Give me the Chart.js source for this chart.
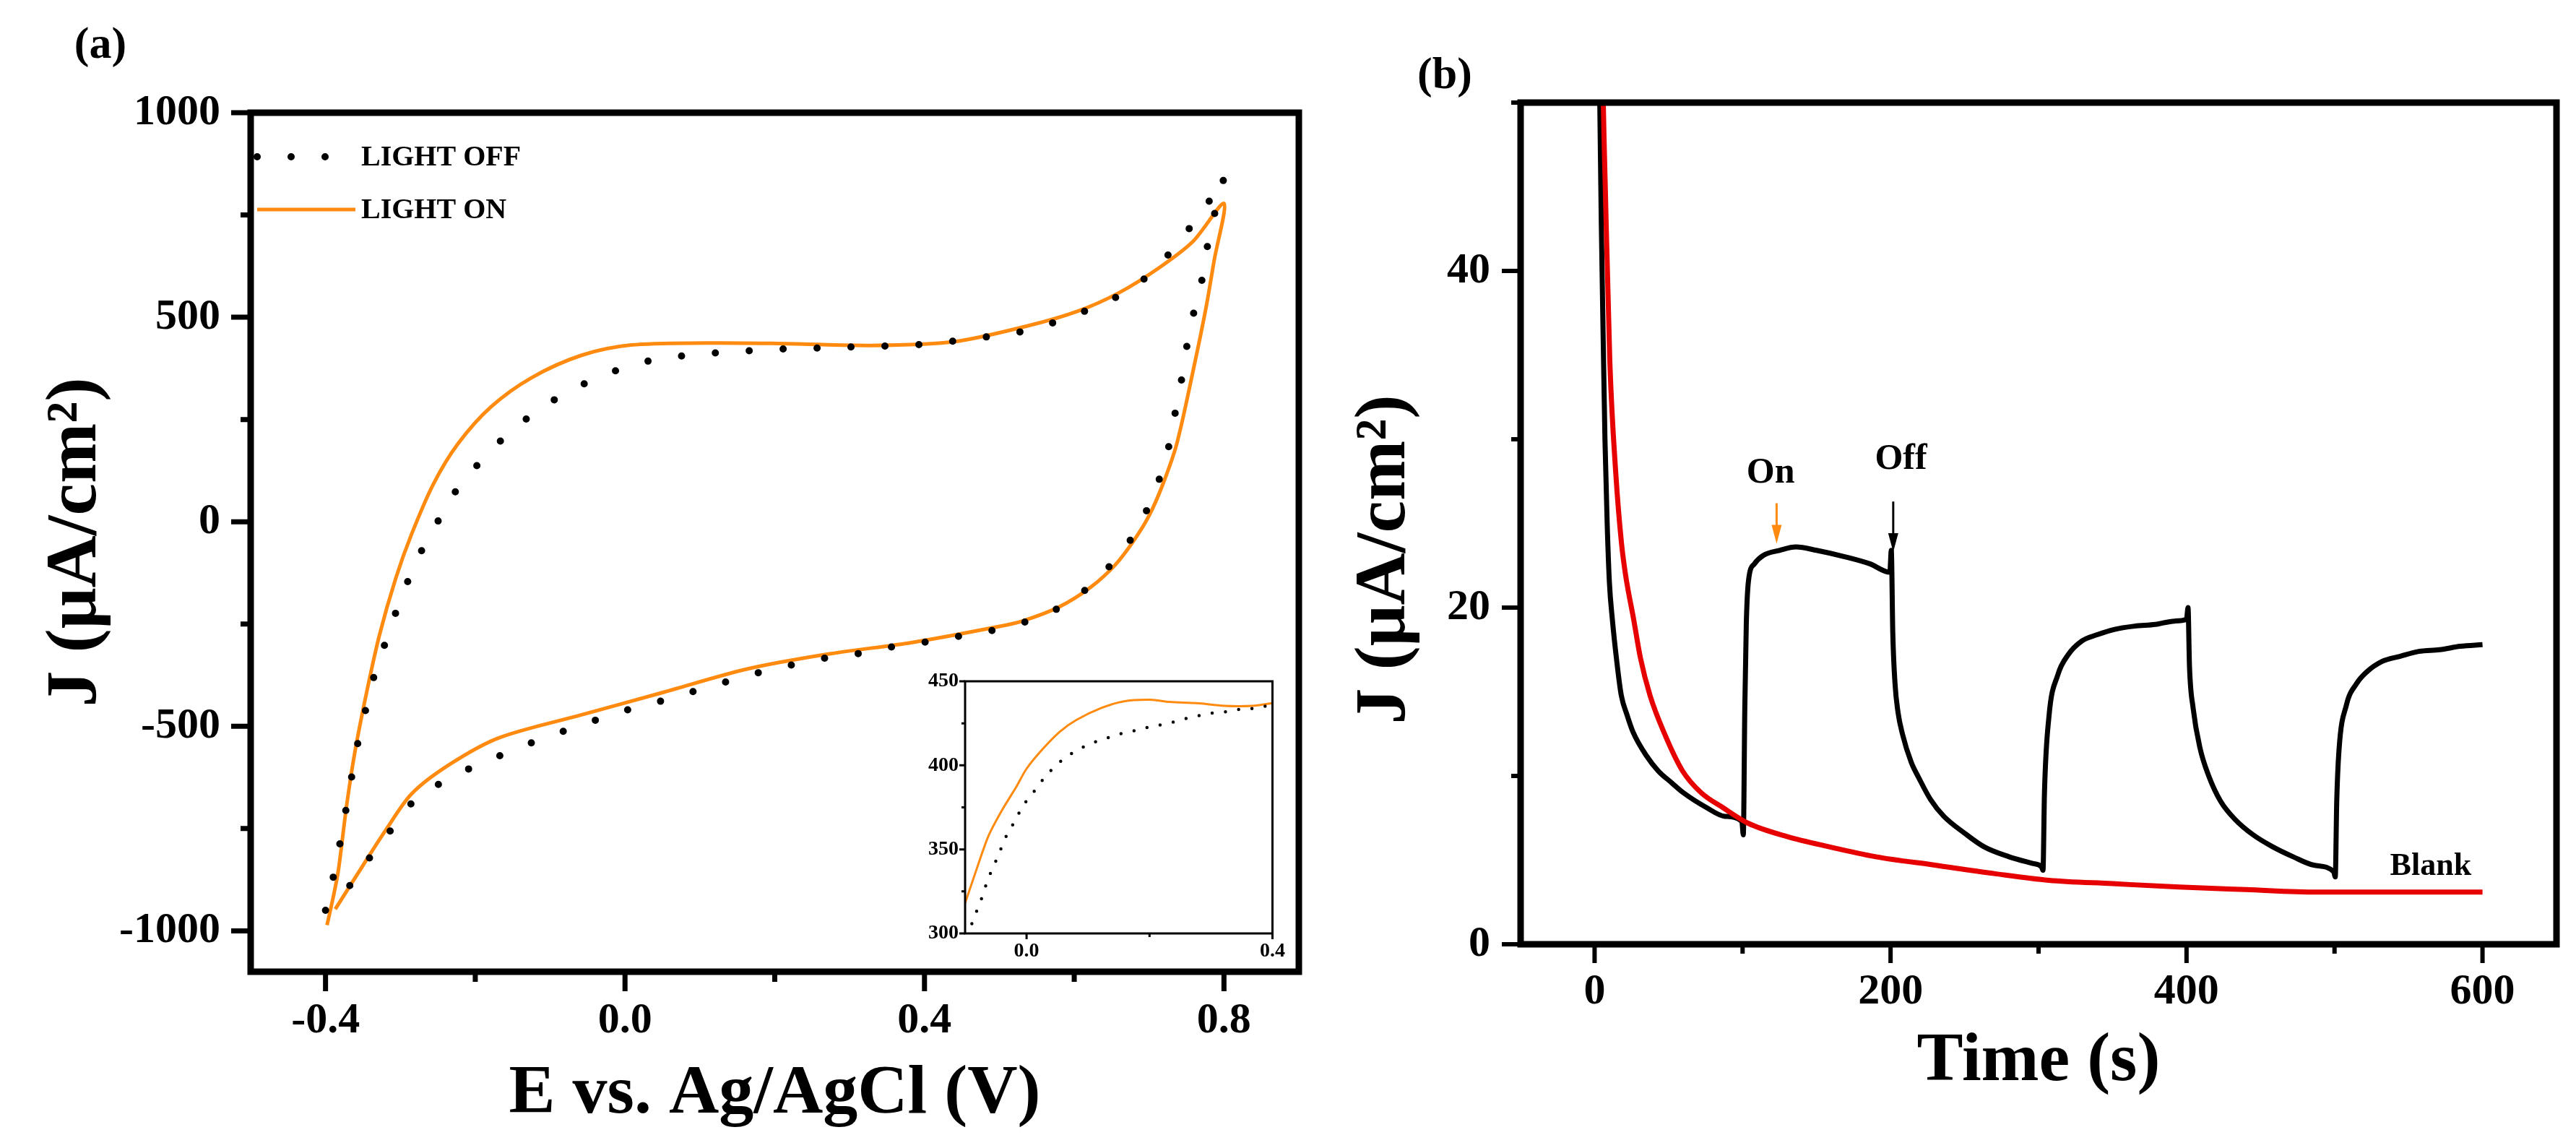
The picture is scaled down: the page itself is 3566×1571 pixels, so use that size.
<!DOCTYPE html>
<html>
<head>
<meta charset="utf-8">
<script src="https://cdn.jsdelivr.net/npm/chart.js@4.4.1/dist/chart.umd.min.js"></script>
<style>
  html, body { margin: 0; padding: 0; background: #fff; }
  body { width: 3566px; height: 1571px; position: relative; overflow: hidden; }
  .box { position: absolute; }
</style>
</head>
<body>
<div class="box" style="left:0;top:0;width:1820px;height:1571px"><canvas id="cv"></canvas></div>
<div class="box" style="left:1240px;top:915px;width:550px;height:420px"><canvas id="inset"></canvas></div>
<div class="box" style="left:1820px;top:0;width:1746px;height:1571px"><canvas id="ca"></canvas></div>
<script>
// (a) cyclic voltammetry: potential E (V) and current density J (uA/cm2)
const offE = [-0.400, -0.389, -0.380, -0.372, -0.364, -0.356, -0.345, -0.334, -0.319, -0.304, -0.287, -0.268, -0.248, -0.226, -0.198, -0.166, -0.130, -0.091, -0.049, -0.005, 0.039, 0.084, 0.130, 0.176, 0.220, 0.266, 0.312, 0.356, 0.400, 0.445, 0.491, 0.535, 0.579, 0.621, 0.660, 0.699, 0.729, 0.759, 0.787, 0.800,
  0.788, 0.779, 0.770, 0.759, 0.750, 0.743, 0.735, 0.726, 0.713, 0.696, 0.676, 0.649, 0.616, 0.574, 0.531, 0.487, 0.442, 0.398, 0.353, 0.309, 0.265, 0.220, 0.176, 0.132, 0.089, 0.047, 0.003, -0.041, -0.085, -0.127, -0.170, -0.212, -0.251, -0.284, -0.315, -0.343, -0.369];
const offJ = [-950, -863, -779, -696, -612, -533, -449, -370, -290, -211, -132, -57, 7, 75, 137, 198, 254, 302, 342, 374, 396, 407, 414, 419, 423, 425, 428, 430, 434, 443, 454, 467, 491, 520, 553, 602, 660, 730, 802, 845,
  757, 685, 586, 506, 425, 344, 268, 182, 101, 25, -42, -105, -165, -216, -247, -267, -281, -295, -307, -323, -334, -351, -370, -393, -416, -439, -460, -486, -514, -542, -574, -607, -644, -686, -759, -826, -893];
const onE = [-0.398, -0.390, -0.383, -0.372, -0.361, -0.345, -0.328, -0.306, -0.285, -0.256, -0.223, -0.179, -0.124, -0.058, 0.008, 0.108, 0.196, 0.329, 0.439, 0.538, 0.605, 0.660, 0.715, 0.759, 0.800,
  0.787, 0.776, 0.759, 0.737, 0.718, 0.700, 0.680, 0.655, 0.622, 0.580, 0.530, 0.494, 0.384, 0.273, 0.163, 0.053, -0.058, -0.168, -0.234, -0.285, -0.320, -0.350, -0.387];
const onJ = [-986, -920, -854, -696, -565, -416, -277, -137, -30, 92, 191, 281, 353, 407, 432, 437, 436, 431, 440, 479, 515, 560, 623, 686, 778,
  640, 523, 371, 191, 90, 15, -45, -105, -160, -208, -243, -258, -295, -323, -360, -416, -472, -528, -593, -665, -755, -840, -947];

// (a) inset, anodic branch close-up
const insetOnE = [-0.100, -0.080, -0.062, -0.040, -0.017, 0.000, 0.027, 0.054, 0.081, 0.121, 0.157, 0.201, 0.233, 0.277, 0.322, 0.367, 0.400];
const insetOnJ = [318, 339.6, 358, 373.3, 387, 398, 410, 420, 427, 434, 438, 439, 437.7, 437, 435.4, 435.4, 437];
const insetOffE = [-0.089, -0.081, -0.073, -0.066, -0.058, -0.049, -0.041, -0.032, -0.021, -0.011, 0.001, 0.014, 0.027, 0.041, 0.058, 0.076, 0.096, 0.117, 0.137, 0.158, 0.179, 0.200, 0.220, 0.242, 0.263, 0.284, 0.305, 0.326, 0.348, 0.369, 0.391, 0.400];
const insetOffJ = [305.8, 313.5, 321, 328.8, 336.5, 343.9, 351, 358.7, 365.6, 372.5, 379.5, 385.3, 391.7, 397.5, 403.2, 407.7, 411.5, 414.6, 416.9, 419.3, 420.9, 422.9, 424.2, 426, 428.2, 429.8, 431.3, 431.9, 433.4, 433.9, 435.4, 436];

// (b) chronoamperometry: time (s) and J (uA/cm2)
const photoT = [2, 3.5, 4.5, 6, 7, 8.5, 10, 12, 15, 18, 22, 26, 35, 43, 52, 60, 76, 88, 99.5, 100.5, 101.5, 102.5, 104, 108, 114, 125, 136, 150, 170, 186, 199.5, 200.5, 201.5, 203, 205, 208, 214, 219, 227, 236, 250, 263, 280, 296, 302, 303, 304, 307, 313, 320, 329, 340, 351, 365, 379, 392, 400, 401, 402, 404.5, 409, 415, 423, 433, 445, 458, 472, 486, 499.5, 500.5, 501.5, 503, 508, 515, 522, 532, 544, 557, 571, 585, 600];
const photoJ = [60, 50, 43, 35, 30, 25, 21.5, 19.3, 16.8, 14.8, 13.6, 12.6, 11.2, 10.3, 9.6, 9.0, 8.1, 7.6, 7.3, 6.5, 14, 19, 21.6, 22.6, 23.1, 23.4, 23.6, 23.4, 23.0, 22.6, 22.1, 23.4, 18.5, 15.5, 13.8, 12.5, 10.8, 9.9, 8.6, 7.6, 6.6, 5.8, 5.2, 4.8, 4.6, 4.4, 9, 13.5, 16, 17.2, 18, 18.4, 18.7, 18.9, 19.0, 19.2, 19.3, 20.0, 16.5, 14.0, 11.7, 10.0, 8.5, 7.4, 6.5, 5.8, 5.2, 4.7, 4.3, 4.0, 8.5, 11.5, 14.2, 15.5, 16.2, 16.8, 17.1, 17.4, 17.5, 17.7, 17.8];
const blankT = [4.5, 5.5, 7.5, 10.3, 14.3, 18.2, 21, 26.4, 31, 37.4, 46.8, 59.4, 72, 87, 103.5, 130, 158, 190, 230, 270, 307, 350, 395, 440, 488, 540, 600];
const blankJ = [60, 52, 44, 34.6, 28, 23.8, 21.9, 19.3, 17, 14.8, 12.6, 10.3, 9.0, 8.1, 7.2, 6.4, 5.8, 5.2, 4.7, 4.2, 3.8, 3.6, 3.4, 3.25, 3.1, 3.1, 3.1];

// ticks
const cvTicksE = [-0.4, 0, 0.4, 0.8];
const cvMinorE = [-0.2, 0.2, 0.6];
const cvTicksJ = [-1000, -500, 0, 500, 1000];
const cvMinorJ = [-750, -250, 250, 750];
const insetTicksE = [0, 0.4];
const insetMinorE = [0.2];
const insetTicksJ = [300, 350, 400, 450];
const insetMinorJ = [325, 375, 425];
const timeTicks = [0, 200, 400, 600];
const timeMinor = [100, 300, 500];
const ampTicks = [0, 20, 40];
const ampMinor = [10, 30, 50];

// annotations in (b)
const noteText = ['On', 'Off', 'Blank'];
const noteT = [119, 207, 565];
const noteJ = [28.0, 28.8, 4.6];
const arrowT = [123, 201.8];
const arrowFrom = [26.2, 26.3];
const arrowTo = [23.8, 23.3];

const SERIF = '"Liberation Serif", "Times New Roman", serif';
const ORANGE = '#ff8a10';
const RED = '#e60000';

const pts = (xs, ys) => xs.map((x, i) => ({x: x, y: ys[i]}));
const fixed = list => s => { s.ticks = list.map(v => ({value: v})); };

const frame = (o) => ({
    id: 'frame',
    afterDatasetsDraw(chart) {
        const {ctx, chartArea: a, scales: {x, y}} = chart;
        ctx.save();
        ctx.strokeStyle = '#000';
        ctx.lineWidth = o.width;
        ctx.strokeRect(a.left, a.top, a.right - a.left, a.bottom - a.top);
        ctx.lineWidth = o.tickWidth;
        ctx.beginPath();
        const xt = (v, len) => {
            const p = x.getPixelForValue(v);
            ctx.moveTo(p, a.bottom);
            ctx.lineTo(p, a.bottom + len);
        };
        const yt = (v, len) => {
            const p = y.getPixelForValue(v);
            ctx.moveTo(a.left, p);
            ctx.lineTo(a.left - len, p);
        };
        x.ticks.forEach(t => xt(t.value, o.major));
        y.ticks.forEach(t => yt(t.value, o.major));
        o.xMinor.forEach(v => xt(v, o.minor));
        o.yMinor.forEach(v => yt(v, o.minor));
        ctx.stroke();
        ctx.restore();
    }
});

const tag = (text, x, y) => ({
    id: 'tag',
    afterDraw(chart) {
        const ctx = chart.ctx;
        ctx.save();
        ctx.font = 'bold 62px ' + SERIF;
        ctx.fillStyle = '#000';
        ctx.textAlign = 'center';
        ctx.textBaseline = 'middle';
        ctx.fillText(text, x, y);
        ctx.restore();
    }
});

const insideLegend = {
    id: 'insideLegend',
    afterDatasetsDraw(chart) {
        const {ctx, chartArea: a} = chart;
        ctx.save();
        chart.data.datasets.forEach((ds, i) => {
            const y = a.top + 61 + i * 73;
            const x0 = a.left + 9;
            ctx.beginPath();
            ctx.strokeStyle = ds.borderColor;
            ctx.lineWidth = ds.borderWidth;
            ctx.lineCap = ds.borderCapStyle || 'butt';
            ctx.setLineDash(ds.borderDash || []);
            ctx.moveTo(x0, y);
            ctx.lineTo(x0 + 136, y);
            ctx.stroke();
            ctx.setLineDash([]);
            ctx.fillStyle = '#000';
            ctx.font = 'bold 40px ' + SERIF;
            ctx.textBaseline = 'middle';
            ctx.fillText(ds.label, a.left + 153, y + 2);
        });
        ctx.restore();
    }
};

const notes = {
    id: 'notes',
    afterDatasetsDraw(chart) {
        const {ctx, scales: {x, y}} = chart;
        const colors = [ORANGE, '#000'];
        ctx.save();
        arrowT.forEach((t, i) => {
            const px = x.getPixelForValue(t);
            const y0 = y.getPixelForValue(arrowFrom[i]);
            const y1 = y.getPixelForValue(arrowTo[i]);
            ctx.strokeStyle = colors[i];
            ctx.fillStyle = colors[i];
            ctx.lineWidth = 3;
            ctx.beginPath();
            ctx.moveTo(px, y0);
            ctx.lineTo(px, y1 - 20);
            ctx.stroke();
            ctx.beginPath();
            ctx.moveTo(px - 7, y1 - 26);
            ctx.lineTo(px + 7, y1 - 26);
            ctx.lineTo(px, y1);
            ctx.closePath();
            ctx.fill();
        });
        ctx.fillStyle = '#000';
        ctx.textAlign = 'center';
        ctx.textBaseline = 'middle';
        noteText.forEach((s, i) => {
            ctx.font = 'bold ' + (i < 2 ? 50 : 44) + 'px ' + SERIF;
            ctx.fillText(s, x.getPixelForValue(noteT[i]), y.getPixelForValue(noteJ[i]));
        });
        ctx.restore();
    }
};

const tickFont = size => ({family: SERIF, size: size, weight: 'bold', lineHeight: 1});

const axis = (o) => ({
    type: 'linear',
    position: o.position,
    min: o.min,
    max: o.max,
    afterBuildTicks: fixed(o.ticks),
    afterFit: s => { if (o.position === 'bottom') s.height = o.size; else s.width = o.size; },
    grid: {display: false, drawTicks: false},
    border: {display: false},
    ticks: {
        autoSkip: false,
        maxRotation: 0,
        color: '#000',
        font: tickFont(o.fontSize),
        padding: o.pad,
        callback: o.format
    },
    title: o.title ? {
        display: true,
        text: o.title,
        color: '#000',
        font: tickFont(o.titleSize),
        padding: o.titlePad
    } : {display: false}
});

Chart.defaults.animation = false;
Chart.defaults.devicePixelRatio = 1;
Chart.defaults.responsive = true;
Chart.defaults.maintainAspectRatio = false;
Chart.defaults.plugins.legend.display = false;
Chart.defaults.plugins.tooltip.enabled = false;
Chart.defaults.elements.point.radius = 0;

new Chart(document.getElementById('cv').getContext('2d'), {
    type: 'line',
    data: {
        datasets: [{
            label: 'LIGHT OFF',
            data: pts(offE, offJ),
            borderColor: '#000',
            borderWidth: 10,
            borderDash: [0, 47],
            borderCapStyle: 'round',
            tension: 0.3
        }, {
            label: 'LIGHT ON',
            data: pts(onE, onJ),
            borderColor: ORANGE,
            borderWidth: 5,
            tension: 0.3
        }]
    },
    options: {
        layout: {padding: {left: 0, top: 156, right: 22, bottom: 0}},
        scales: {
            x: axis({position: 'bottom', min: -0.5, max: 0.9, ticks: cvTicksE, size: 226, fontSize: 60, pad: 38,
                format: v => v.toFixed(1), title: 'E vs. Ag/AgCl (V)', titleSize: 96, titlePad: {top: 0, bottom: 8}}),
            y: axis({position: 'left', min: -1100, max: 1000, ticks: cvTicksJ, size: 347, fontSize: 60, pad: 42,
                format: v => String(v), title: 'J (\u03bcA/cm\u00b2)', titleSize: 100, titlePad: {top: 56, bottom: 0}})
        }
    },
    plugins: [frame({width: 9, tickWidth: 7, major: 27, minor: 14, xMinor: cvMinorE, yMinor: cvMinorJ}), insideLegend, tag('(a)', 139, 64)]
});

new Chart(document.getElementById('inset').getContext('2d'), {
    type: 'line',
    data: {
        datasets: [{
            label: 'LIGHT OFF',
            data: pts(insetOffE, insetOffJ),
            borderColor: '#000',
            borderWidth: 4.5,
            borderDash: [0, 18.5],
            borderCapStyle: 'round',
            tension: 0.3
        }, {
            label: 'LIGHT ON',
            data: pts(insetOnE, insetOnJ),
            borderColor: ORANGE,
            borderWidth: 3,
            tension: 0.3
        }]
    },
    options: {
        layout: {padding: {left: 0, top: 28, right: 25, bottom: 0}},
        scales: {
            x: axis({position: 'bottom', min: -0.1, max: 0.4, ticks: insetTicksE, size: 43, fontSize: 28, pad: 11,
                format: v => v.toFixed(1)}),
            y: axis({position: 'left', min: 300, max: 450, ticks: insetTicksJ, size: 96, fontSize: 28, pad: 9,
                format: v => String(v)})
        }
    },
    plugins: [frame({width: 3, tickWidth: 3, major: 8, minor: 5, xMinor: insetMinorE, yMinor: insetMinorJ})]
});

new Chart(document.getElementById('ca').getContext('2d'), {
    type: 'line',
    data: {
        datasets: [{
            label: 'Blank',
            data: pts(blankT, blankJ),
            borderColor: RED,
            borderWidth: 7,
            cubicInterpolationMode: 'monotone'
        }, {
            label: 'Photo',
            data: pts(photoT, photoJ),
            borderColor: '#000',
            borderWidth: 7,
            cubicInterpolationMode: 'monotone'
        }]
    },
    options: {
        layout: {padding: {left: 0, top: 142, right: 27, bottom: 0}},
        scales: {
            x: axis({position: 'bottom', min: -50, max: 650, ticks: timeTicks, size: 264, fontSize: 60, pad: 36,
                format: v => String(v), title: 'Time (s)', titleSize: 96, titlePad: {top: 0, bottom: 53}}),
            // trailing em space nudges the rotated title down, as in the original
            y: axis({position: 'left', min: 0, max: 50, ticks: ampTicks, size: 285, fontSize: 60, pad: 42,
                format: v => String(v), title: 'J (\u03bcA/cm\u00b2)\u2003', titleSize: 100, titlePad: {top: 48, bottom: 0}})
        }
    },
    plugins: [frame({width: 9, tickWidth: 6, major: 26, minor: 13, xMinor: timeMinor, yMinor: ampMinor}), notes, tag('(b)', 180, 106)]
});
</script>
</body>
</html>
